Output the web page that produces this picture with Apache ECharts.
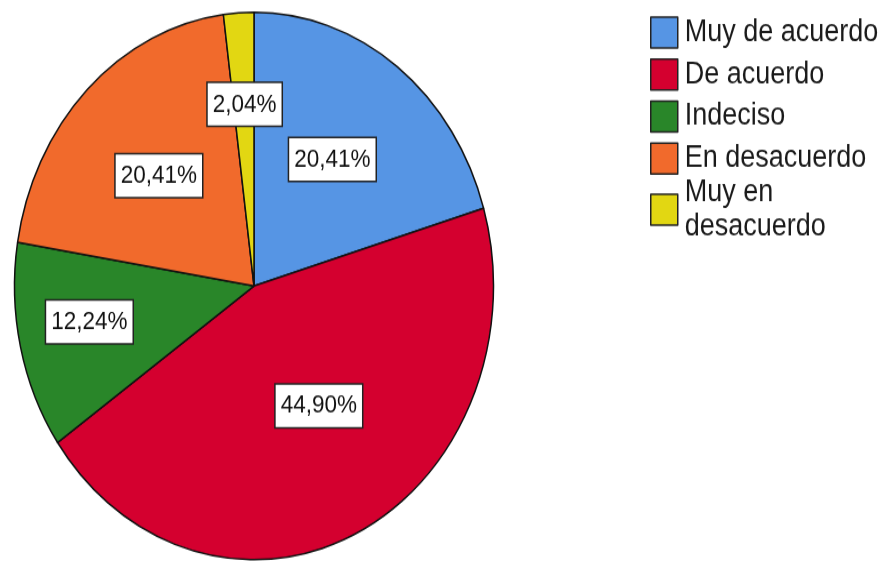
<!DOCTYPE html>
<html>
<head>
<meta charset="utf-8">
<script src="https://cdn.jsdelivr.net/npm/echarts@6/dist/echarts.min.js"></script>
<style>
  html, body { margin: 0; padding: 0; background: #fff; overflow: hidden; }
  #wrap { width: 883px; height: 561px; overflow: hidden; position: relative; }
  #chart { width: 883px; height: 491px; transform: scaleY(1.14257); transform-origin: 0 0; }
</style>
</head>
<body>
<div id="wrap"><div id="chart"></div></div>
<script>
// ---- data ----
const categories = ['Muy de acuerdo', 'De acuerdo', 'Indeciso', 'En desacuerdo', 'Muy en desacuerdo'];
const legendLabels = ['Muy de acuerdo', 'De acuerdo', 'Indeciso', 'En desacuerdo', 'Muy en\ndesacuerdo'];
const percents = [20.41, 44.90, 12.24, 20.41, 2.04];

// ---- style ----
const colors = ['#5695E4', '#D4002F', '#298629', '#F16A2C', '#E2D712'];
const labelRadiusFrac = [0.567, 0.515, 0.70, 0.566, 0.665];
const labelAngleShiftDeg = [-1.5, -6, 2, -0.5, 0.3];
const CX = 254, CY = 250.3, R = 239.5;
const FONT = "'Liberation Sans', Arial, sans-serif";

const total = percents.reduce((a, b) => a + b, 0);
const midAngles = [];
let acc = 0;
percents.forEach(v => { midAngles.push((acc + v / 2) / total * 2 * Math.PI); acc += v; });

const chart = echarts.init(document.getElementById('chart'), null, { renderer: 'canvas' });

const legendCommon = {
  orient: 'vertical',
  left: 650,
  padding: 0,
  icon: 'rect',
  itemWidth: 27,
  itemHeight: 27,
  itemGap: 0.75,
  selectedMode: false,
  itemStyle: { borderColor: '#222', borderWidth: 1.5 },
  formatter: name => legendLabels[categories.indexOf(name)],
  textStyle: {
    fontFamily: FONT, fontSize: 27, lineHeight: 30, color: '#1a1a1a',
    padding: [6, 0, 0, 2]
  }
};

chart.setOption({
  animation: false,
  color: colors,
  legend: [
    Object.assign({}, legendCommon, { top: 10.4, data: categories.slice(0, 4) }),
    Object.assign({}, legendCommon, { top: 150.4, data: categories.slice(4) })
  ],
  series: [{
    type: 'pie',
    center: [CX, CY],
    radius: [0, R],
    startAngle: 90,
    clockwise: true,
    silent: true,
    itemStyle: { borderColor: '#111', borderWidth: 1.5 },
    emphasis: { disabled: true },
    labelLine: { show: false },
    label: {
      show: true,
      position: 'inside',
      formatter: p => p.value.toFixed(2).replace('.', ',') + '%',
      fontFamily: FONT,
      fontSize: 22.5,
      lineHeight: 24,
      color: '#111',
      backgroundColor: '#fff',
      borderColor: '#222',
      borderWidth: 1.5,
      padding: [7, 5, 6, 5]
    },
    labelLayout: params => {
      const i = params.dataIndex;
      const a = midAngles[i] + labelAngleShiftDeg[i] * Math.PI / 180;
      const d = labelRadiusFrac[i] * R;
      return {
        x: CX + d * Math.sin(a),
        y: CY - d * Math.cos(a),
        align: 'center',
        verticalAlign: 'middle'
      };
    },
    data: categories.map((c, i) => ({ name: c, value: percents[i] }))
  }]
});
</script>
</body>
</html>
